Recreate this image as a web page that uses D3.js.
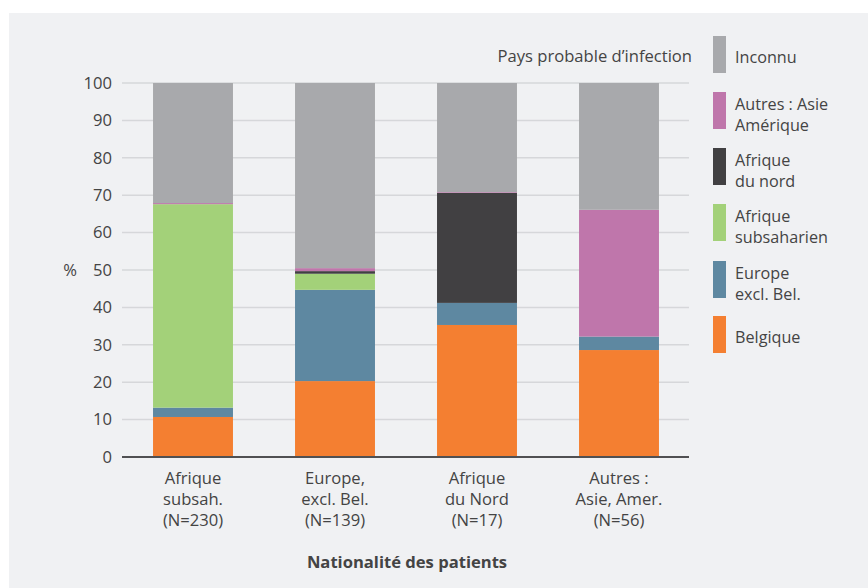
<!DOCTYPE html>
<html><head><meta charset="utf-8">
<script src="https://cdn.jsdelivr.net/npm/d3@7"></script>
<style>
html,body{margin:0;padding:0;background:#fff;}
svg{display:block;}
text{font-family:"Open Sans",sans-serif;fill:#444;}
</style></head>
<body>
<svg id="c" width="868" height="588"></svg>
<script>
const categories = [
  ["Afrique", "subsah.", "(N=230)"],
  ["Europe,", "excl. Bel.", "(N=139)"],
  ["Afrique", "du Nord", "(N=17)"],
  ["Autres :", "Asie, Amer.", "(N=56)"]
];
const seriesNames = ["Belgique", "Europe excl. Bel.", "Afrique subsaharienne", "Afrique du nord", "Autres : Asie, Amérique", "Inconnu"];
const legendLabels = [["Belgique"], ["Europe", "excl. Bel."], ["Afrique", "subsaharienne"], ["Afrique", "du nord"], ["Autres : Asie,", "Amérique"], ["Inconnu"]];
const belgique   = [10.7, 20.3, 35.3, 28.6];
const europe     = [2.5, 24.4, 5.9, 3.6];
const afriqueSS  = [54.4, 4.3, 0, 0];
const afriqueN   = [0, 0.7, 29.4, 0];
const autres     = [0.3, 0.8, 0.2, 33.9];
const inconnu    = [32.1, 49.5, 29.2, 33.9];
const yTicks = [0,10,20,30,40,50,60,70,80,90,100];
const colors = ["#f47f31", "#5e88a1", "#a3d179", "#414042", "#bf76ab", "#a8a9ac"];

const seriesValues = [belgique, europe, afriqueSS, afriqueN, autres, inconnu];
const table = categories.map((c, i) => {
  const o = {idx: i};
  seriesNames.forEach((s, j) => o[s] = seriesValues[j][i]);
  return o;
});
const stacked = d3.stack().keys(seriesNames)(table);
const FS = 16.6;

const svg = d3.select("#c");
svg.append("rect").attr("x", 9).attr("y", 13).attr("width", 859).attr("height", 575).attr("fill", "#f0f1f3");

const x = d3.scaleBand().domain(d3.range(categories.length)).range([122, 690]).paddingInner(0.437).paddingOuter(0.2185);
const y = d3.scaleLinear().domain([0, 100]).range([457, 83]);

// grid
svg.append("g").selectAll("line").data(yTicks.filter(t => t > 0)).join("line")
  .attr("x1", 122).attr("x2", 689).attr("y1", d => y(d)).attr("y2", d => y(d))
  .attr("stroke", "#d6d7da").attr("stroke-width", 1.5);

// bars
svg.append("g").selectAll("g").data(stacked).join("g")
  .attr("fill", (d, i) => colors[i])
  .selectAll("rect").data(d => d).join("rect")
  .attr("x", d => x(d.data.idx)).attr("width", x.bandwidth())
  .attr("y", d => y(d[1])).attr("height", d => Math.max(0, y(d[0]) - y(d[1])));

// axis baseline
svg.append("line").attr("x1", 122).attr("x2", 689).attr("y1", y(0)).attr("y2", y(0))
  .attr("stroke", "#505052").attr("stroke-width", 2);

// y axis labels
const yAxis = d3.axisLeft(y).tickValues(yTicks).tickSize(0).tickPadding(10);
const yg = svg.append("g").attr("transform", "translate(122,0)").call(yAxis);
yg.select(".domain").remove();
yg.selectAll("text").attr("font-size", FS).attr("fill", "#444").attr("font-family", "Open Sans, sans-serif").attr("x", -10);

svg.append("text").attr("x", 70).attr("y", y(50)).attr("dy", "0.35em").attr("text-anchor", "middle").attr("font-size", FS).text("%");

// x labels
const xl = svg.append("g").selectAll("text").data(categories).join("text")
  .attr("text-anchor", "middle").attr("font-size", FS)
  .attr("x", (d, i) => x(i) + x.bandwidth() / 2).attr("y", 484);
xl.selectAll("tspan").data(d => d).join("tspan")
  .attr("x", function() { return d3.select(this.parentNode).attr("x"); })
  .attr("dy", (d, i) => i === 0 ? 0 : 21).text(d => d);

svg.append("text").attr("x", 407).attr("y", 568).attr("text-anchor", "middle")
  .attr("font-size", FS).attr("font-weight", "bold").attr("fill", "#333").text("Nationalité des patients");

// legend
svg.append("text").attr("x", 692).attr("y", 62).attr("text-anchor", "end").attr("font-size", FS).text("Pays probable d\u2019infection");
svg.append("clipPath").attr("id", "lc").append("rect").attr("x", 700).attr("y", 0).attr("width", 128).attr("height", 588);
const legendTops = [316, 261, 204, 148, 92, 36];
const lg = svg.append("g").attr("clip-path", "url(#lc)");
seriesNames.forEach((s, i) => {
  const top = legendTops[i];
  lg.append("rect").attr("x", 713).attr("y", top).attr("width", 13).attr("height", 37).attr("fill", colors[i]);
  const lines = legendLabels[i];
  const t = lg.append("text").attr("x", 735).attr("font-size", 16.2)
    .attr("y", lines.length === 1 ? top + 27 : top + 17.5);
  lines.forEach((ln, k) => t.append("tspan").attr("x", 735).attr("dy", k === 0 ? 0 : 21).text(ln));
});
</script>
</body></html>
